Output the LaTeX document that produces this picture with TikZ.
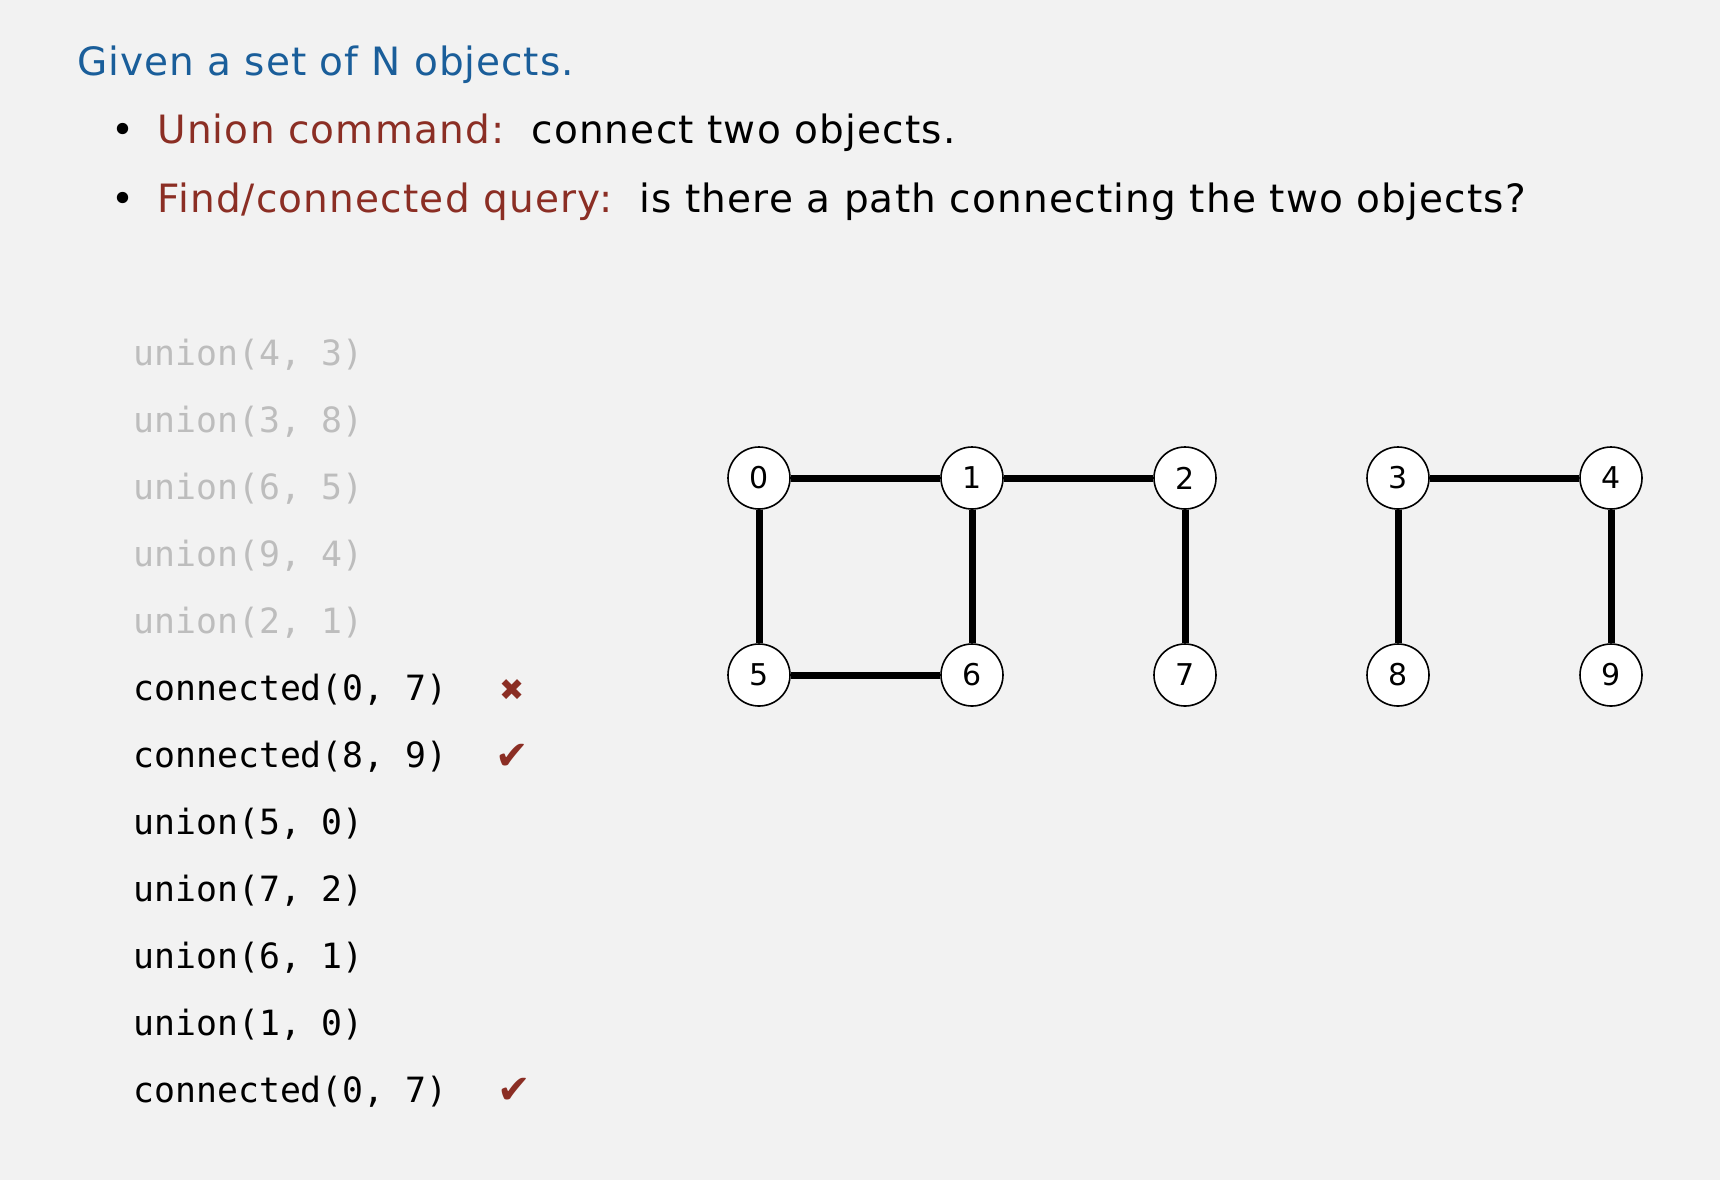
\documentclass[tikz,border=0pt]{standalone}
\usepackage{fontspec}
\setmainfont{DejaVu Sans}
\newfontfamily\codefont{DejaVu Sans Mono}
\newfontfamily\symfont{DejaVu Sans}
\newfontfamily\headfont[LetterSpace=3]{DejaVu Sans}
\newfontfamily\titlefont[LetterSpace=2.5]{DejaVu Sans}
\definecolor{bg}{HTML}{F2F2F2}
\definecolor{titleblue}{HTML}{1A5E9A}
\definecolor{darkred}{HTML}{8B2E24}
\definecolor{lightgrey}{HTML}{BDBDBD}
\begin{document}
\begin{tikzpicture}[x=0.5pt,y=-0.5pt,
  txt/.style={anchor=base west,inner sep=0pt,font=\headfont\fontsize{19.5pt}{23pt}\selectfont},
  code/.style={anchor=base west,inner sep=0pt,font=\codefont\fontsize{17.4pt}{20pt}\selectfont},
  old/.style={code,text=lightgrey},
  verdict/.style={inner sep=0pt,text=darkred,font=\symfont\fontsize{20pt}{22pt}\selectfont},
  site/.style={circle,draw=black,line width=0.8pt,fill=white,minimum size=31pt,inner sep=0pt,font=\fontsize{15pt}{17pt}\selectfont},
  link/.style={line width=3.5pt}]
\fill[bg] (0,0) rectangle (1720,1180);
\useasboundingbox (0,0) rectangle (1720,1180);
% header
\node[txt,text=titleblue,font=\titlefont\fontsize{19.5pt}{24pt}\selectfont] (title) at (77,75) {Given a set of N objects.};
\node[txt] (b1) at (111,143) {•};
\node[txt] (l1) at (157,143) {\textcolor{darkred}{Union command:}\ \ connect two objects.};
\node[txt] (b2) at (111,212) {•};
\node[txt] (l2) at (157,212) {\textcolor{darkred}{Find/connected query:}\ \ is there a path connecting the two objects?};
% operations
\node[old] (c1) at (133,365) {union(4, 3)};
\node[old] (c2) at (133,432) {union(3, 8)};
\node[old] (c3) at (133,499) {union(6, 5)};
\node[old] (c4) at (133,566) {union(9, 4)};
\node[old] (c5) at (133,633) {union(2, 1)};
\node[code] (c6) at (133,700) {connected(0, 7)};
\node[code] (c7) at (133,767) {connected(8, 9)};
\node[code] (c8) at (133,834) {union(5, 0)};
\node[code] (c9) at (133,901) {union(7, 2)};
\node[code] (c10) at (133,968) {union(6, 1)};
\node[code] (c11) at (133,1035) {union(1, 0)};
\node[code] (c12) at (133,1102) {connected(0, 7)};
\node[verdict,font=\symfont\fontsize{15pt}{17pt}\selectfont] (m1) at (512,690) {✖};
\node[verdict] (m2) at (512,757) {✔};
\node[verdict] (m3) at (514,1091) {✔};
% graph
\node[site] (n0) at (759,478) {0};
\node[site] (n1) at (972,478) {1};
\node[site] (n2) at (1185,478) {2};
\node[site] (n3) at (1398,478) {3};
\node[site] (n4) at (1611,478) {4};
\node[site] (n5) at (759,675) {5};
\node[site] (n6) at (972,675) {6};
\node[site] (n7) at (1185,675) {7};
\node[site] (n8) at (1398,675) {8};
\node[site] (n9) at (1611,675) {9};
\draw[link] (n0) -- (n1);
\draw[link] (n1) -- (n2);
\draw[link] (n0) -- (n5);
\draw[link] (n1) -- (n6);
\draw[link] (n5) -- (n6);
\draw[link] (n2) -- (n7);
\draw[link] (n3) -- (n4);
\draw[link] (n3) -- (n8);
\draw[link] (n4) -- (n9);
\end{tikzpicture}
\end{document}
